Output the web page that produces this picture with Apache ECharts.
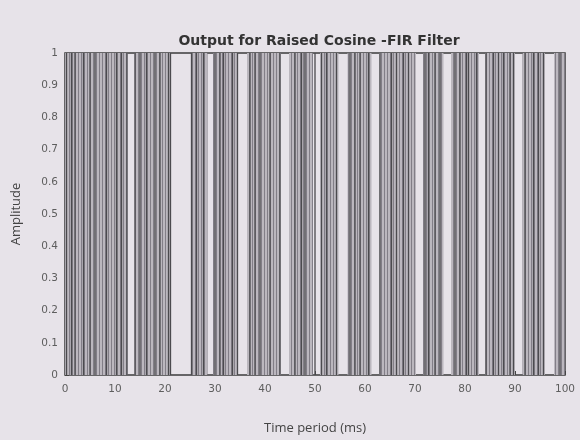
<!DOCTYPE html>
<html><head><meta charset="utf-8">
<script src="https://cdn.jsdelivr.net/npm/echarts@6/dist/echarts.min.js"></script>
<style>html,body{margin:0;padding:0;background:#e7e3e9;}#c{width:580px;height:440px;}</style>
</head><body><div id="c"></div>
<script>
// Binary output signal (amplitude 0/1).
// Intervals (ms) where the signal toggles so densely that it looks grey
const denseBands = [
  [0, 12.5], [13.9, 21.2], [25.3, 28.5], [29.6, 34.6], [36.4, 43.2], [44.8, 49.6],
  [51, 54.7], [56.5, 61.3], [62.8, 70.2], [71.6, 75.7], [77.2, 82.8], [84, 90],
  [91.5, 96], [97.8, 100]
];
// Isolated transitions (ms) that show as dark vertical lines
const edgeTimes = [
  0.3, 1.3, 2, 3.7, 5, 6, 8.3, 10.3, 11.3, 12.4, 14, 15, 16.3, 18, 19, 20.7, 21.1,
  25.3, 26.3, 27.7, 30, 31, 31.7, 33.5, 34.5, 37, 38, 39, 41, 43,
  46, 47.3, 48, 50, 51.3, 52.3, 54.3, 57, 58, 59, 60.7, 63, 65.3, 66.3, 67.7,
  68.7, 72, 72.7, 74, 75, 78, 79, 80.3, 80.7, 82.3, 84.2, 85.7,
  86.7, 87.7, 89, 89.7, 92, 93.7, 94.7, 95.7, 99
];
const signalLow = 0, signalHigh = 1;
const xTitle = 'Time period (ms)';
const yTitle = 'Amplitude';
const chartTitle = 'Output for Raised Cosine -FIR Filter';

// fine vertical-stripe texture standing in for densely packed transitions
const tex = document.createElement('canvas');
tex.width = 3; tex.height = 4;
const tctx = tex.getContext('2d');
tctx.fillStyle = '#bbb7be'; tctx.fillRect(0, 0, 3, 4);
tctx.fillStyle = '#827e87'; tctx.fillRect(0, 0, 1, 4);
const denseFill = {image: tex, repeat: 'repeat'};

const chart = echarts.init(document.getElementById('c'), null, {renderer: 'canvas'});
const labelStyle = {color: '#5e5e5e', fontFamily: 'DejaVu Sans, sans-serif', fontSize: 10.5};
chart.setOption({
  backgroundColor: '#e7e3e9',
  animation: false,
  title: {
    text: chartTitle, left: 314, top: 29, textAlign: 'center',
    textStyle: {fontFamily: 'DejaVu Sans, sans-serif', fontWeight: 'bold', fontSize: 14, color: '#333'}
  },
  grid: {left: 65, right: 15, top: 53, bottom: 63, show: true, borderColor: '#3d3d3d', borderWidth: 1.5, backgroundColor: 'transparent'},
  xAxis: {
    type: 'value', min: 0, max: 100, interval: 10,
    name: xTitle, nameLocation: 'middle', nameGap: 47,
    nameTextStyle: {fontFamily: 'Open Sans, sans-serif', fontSize: 13, color: '#444'},
    axisLine: {show: false}, splitLine: {show: false},
    axisTick: {show: true, inside: true, length: 4, lineStyle: {color: '#444'}},
    axisLabel: Object.assign({margin: 9}, labelStyle)
  },
  yAxis: {
    type: 'value', min: 0, max: 1, interval: 0.1,
    name: yTitle, nameLocation: 'middle', nameGap: 42, nameRotate: 90,
    nameTextStyle: {fontFamily: 'Open Sans, sans-serif', fontSize: 13, color: '#444'},
    axisLine: {show: false}, splitLine: {show: false},
    axisTick: {show: true, inside: true, length: 4, lineStyle: {color: '#444'}},
    axisLabel: Object.assign({margin: 7, formatter: v => (v === 0 || v === 1) ? String(v) : v.toFixed(1)}, labelStyle)
  },
  series: [
    {
      type: 'custom', name: 'dense',
      data: denseBands,
      renderItem: function (params, api) {
        const p0 = api.coord([api.value(0), signalHigh]);
        const p1 = api.coord([api.value(1), signalLow]);
        return {type: 'rect', shape: {x: p0[0], y: p0[1], width: p1[0] - p0[0], height: p1[1] - p0[1]},
          style: {fill: denseFill}};
      },
      encode: {x: [0, 1]}, z: 1
    },
    {
      type: 'custom', name: 'edges',
      data: edgeTimes.map(t => [t]),
      renderItem: function (params, api) {
        const a = api.coord([api.value(0), signalLow]);
        const b = api.coord([api.value(0), signalHigh]);
        return {type: 'line', shape: {x1: a[0], y1: a[1], x2: b[0], y2: b[1]},
          style: {stroke: '#4b4a4e', lineWidth: 1.3}};
      },
      encode: {x: 0}, z: 2
    }
  ]
});
</script></body></html>
